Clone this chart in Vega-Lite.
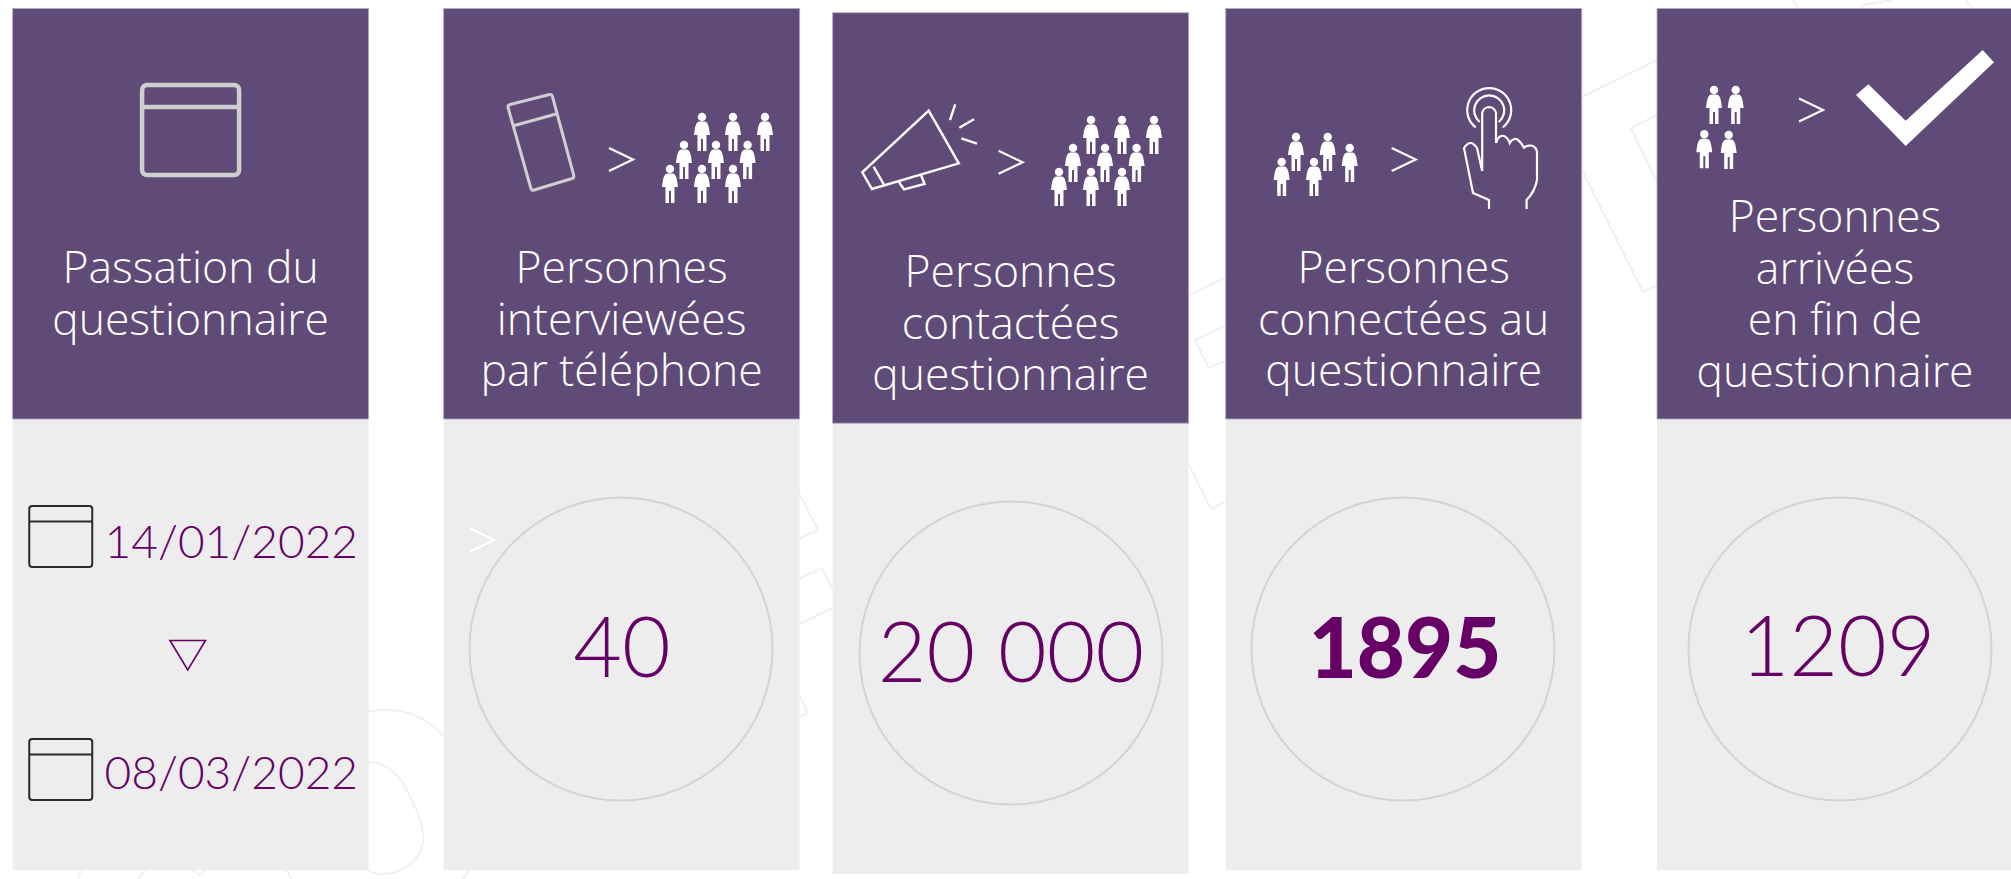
{"$schema":"https://vega.github.io/schema/vega-lite/v6.json","width":2011,"height":879,"padding":0,"autosize":{"type":"none"},"background":"white","config":{"view":{"stroke":null}},
"datasets":{
"panels":[
{"col":1,"title":"Passation du\nquestionnaire"},
{"col":2,"title":"Personnes\ninterviewées\npar téléphone","value":"40","emphasis":false},
{"col":3,"title":"Personnes\ncontactées\nquestionnaire","value":"20 000","emphasis":false},
{"col":4,"title":"Personnes\nconnectées au\nquestionnaire","value":"1895","emphasis":true},
{"col":5,"title":"Personnes\narrivées\nen fin de\nquestionnaire","value":"1209","emphasis":false}],
"dates":[{"col":1,"n":1,"date":"14/01/2022"},{"col":1,"n":2,"date":"08/03/2022"}],
"chevrons":[{"col":2,"n":1},{"col":2,"n":2},{"col":3,"n":3},{"col":4,"n":4},{"col":5,"n":5}],
"backdrop":[{"col":0}]},
"data":{"name":"panels"},
"encoding":{
"x":{"field":"col","type":"quantitative","axis":null,"scale":{"domain":[0,1,2,3,4,5],"range":[0,190.6,621.6,1010.6,1403.7,1835],"nice":false,"zero":false}},
"y":{"field":"col","type":"quantitative","axis":null,"scale":{"domain":[0,1,2,3,4,5],"range":[0,130,117,120,110,110],"nice":false,"zero":false}}},
"layer":[
{"data":{"name":"backdrop"},"mark":{"type":"point","size":4,"filled":false,"stroke":"#f1f1f1","strokeWidth":2,"opacity":1,"shape":"M368,712C395,706 420,712 443,735M368,762C385,762 395,772 403,783C415,805 425,825 423,843C420,862 400,874 382,874C376,874 372,872 368,870M82,868L78,879M147,868L138,879M191,868L199,875L208,868M285,868L292,879M470,868L463,879M799,493L818,530L799,539M799,579L822,568L833,591M799,624L833,608M799,694L808,713L799,717M1189,295L1225,278M1225,326L1195,340L1209,368L1225,361M1189,465L1211,509L1225,502M1582,97L1657,60M1657,115L1631,128L1657,182M1582,170L1643,292L1657,285M1793,0L1798,8M1862,8L1862,5L1892,0M1965,0L1972,8"}},
{"mark":{"type":"rect","fill":"#ededed","xOffset":-178,"x2Offset":178,"y2Offset":451},
"encoding":{"x2":{"field":"col"},"y":{"field":"col","type":"quantitative","axis":null,"scale":{"domain":[1,2,3,4,5],"range":[419,419,423,419,419],"nice":false,"zero":false}},"y2":{"field":"col"}}},
{"mark":{"type":"rect","fill":"#5f4a78","stroke":"#b3a9c0","strokeWidth":0.8,"xOffset":-178,"x2Offset":178,"y2Offset":410.5},
"encoding":{"x2":{"field":"col"},"y":{"field":"col","type":"quantitative","axis":null,"scale":{"domain":[1,2,3,4,5],"range":[8.5,8.5,12.7,8.5,8.5],"nice":false,"zero":false}},"y2":{"field":"col"}}},
{"transform":[{"filter":"datum.col == 1"}],"mark":{"type":"point","size":4,"filled":false,"stroke":"#cfcfcf","strokeWidth":4.5,"opacity":1,"shape":"M-43.5,-45H43.5A5,5 0 0 1 48.5,-40V40A5,5 0 0 1 43.5,45H-43.5A5,5 0 0 1 -48.5,40V-40A5,5 0 0 1 -43.5,-45ZM-48.5,-23H48.5"}},
{"transform":[{"filter":"datum.col == 2"}],"mark":{"type":"point","size":4,"filled":false,"stroke":"#cfcfcf","strokeWidth":3,"strokeJoin":"round","opacity":1,"shape":"M-113.6,-9.5Q-114,-11.5 -111.5,-12.5L-72,-22.5Q-70,-23 -69.3,-21L-47.8,58.5Q-47.3,60.7 -49.5,61.5L-87.5,73Q-90,73.8 -90.7,71.5ZM-109,9L-65.6,-3"}},
{"transform":[{"filter":"datum.col == 2 || datum.col == 3"}],"mark":{"type":"point","size":4,"filled":true,"color":"white","opacity":1,"shape":"M76.2,0a4.2,4.2 0 1,0 8.4,0a4.2,4.2 0 1,0 -8.4,0ZM77.4,4.5h6c3,1 4,4.5 5,13.5h-3.5v16h-3.5v-12h-2v12h-3.5v-16h-3.5c1,-9 2,-12.5 5,-13.5ZM107.2,0a4.2,4.2 0 1,0 8.4,0a4.2,4.2 0 1,0 -8.4,0ZM108.4,4.5h6c3,1 4,4.5 5,13.5h-3.5v16h-3.5v-12h-2v12h-3.5v-16h-3.5c1,-9 2,-12.5 5,-13.5ZM139.2,0a4.2,4.2 0 1,0 8.4,0a4.2,4.2 0 1,0 -8.4,0ZM140.4,4.5h6c3,1 4,4.5 5,13.5h-3.5v16h-3.5v-12h-2v12h-3.5v-16h-3.5c1,-9 2,-12.5 5,-13.5ZM58.2,28a4.2,4.2 0 1,0 8.4,0a4.2,4.2 0 1,0 -8.4,0ZM59.4,32.5h6c3,1 4,4.5 5,13.5h-3.5v16h-3.5v-12h-2v12h-3.5v-16h-3.5c1,-9 2,-12.5 5,-13.5ZM90.2,28a4.2,4.2 0 1,0 8.4,0a4.2,4.2 0 1,0 -8.4,0ZM91.4,32.5h6c3,1 4,4.5 5,13.5h-3.5v16h-3.5v-12h-2v12h-3.5v-16h-3.5c1,-9 2,-12.5 5,-13.5ZM121.8,28a4.2,4.2 0 1,0 8.4,0a4.2,4.2 0 1,0 -8.4,0ZM123,32.5h6c3,1 4,4.5 5,13.5h-3.5v16h-3.5v-12h-2v12h-3.5v-16h-3.5c1,-9 2,-12.5 5,-13.5ZM44.2,52a4.2,4.2 0 1,0 8.4,0a4.2,4.2 0 1,0 -8.4,0ZM45.4,56.5h6c3,1 4,4.5 5,13.5h-3.5v16h-3.5v-12h-2v12h-3.5v-16h-3.5c1,-9 2,-12.5 5,-13.5ZM76.2,52a4.2,4.2 0 1,0 8.4,0a4.2,4.2 0 1,0 -8.4,0ZM77.4,56.5h6c3,1 4,4.5 5,13.5h-3.5v16h-3.5v-12h-2v12h-3.5v-16h-3.5c1,-9 2,-12.5 5,-13.5ZM107.2,52a4.2,4.2 0 1,0 8.4,0a4.2,4.2 0 1,0 -8.4,0ZM108.4,56.5h6c3,1 4,4.5 5,13.5h-3.5v16h-3.5v-12h-2v12h-3.5v-16h-3.5c1,-9 2,-12.5 5,-13.5Z"}},
{"transform":[{"filter":"datum.col == 3"}],"mark":{"type":"point","size":4,"filled":false,"stroke":"white","strokeWidth":2.4,"opacity":1,"shape":"M-81.9,-9.3L-51.8,43.3L-138.6,69L-148.3,52.3ZM-137,46.7L-126.8,64.3M-111.6,62.3L-106.6,69.3L-86,64L-89.6,55M-55.4,-15.7L-60.6,0M-36.6,-0.7L-51.3,7.7M-49.3,18.3L-33.6,23.7"}},
{"transform":[{"filter":"datum.col == 4"}],"mark":{"type":"point","size":4,"filled":true,"color":"white","opacity":1,"shape":"M-111.9,27a4.2,4.2 0 1,0 8.4,0a4.2,4.2 0 1,0 -8.4,0ZM-110.7,31.5h6c3,1 4,4.5 5,13.5h-3.5v16h-3.5v-12h-2v12h-3.5v-16h-3.5c1,-9 2,-12.5 5,-13.5ZM-80.2,27a4.2,4.2 0 1,0 8.4,0a4.2,4.2 0 1,0 -8.4,0ZM-79,31.5h6c3,1 4,4.5 5,13.5h-3.5v16h-3.5v-12h-2v12h-3.5v-16h-3.5c1,-9 2,-12.5 5,-13.5ZM-58.2,38a4.2,4.2 0 1,0 8.4,0a4.2,4.2 0 1,0 -8.4,0ZM-57,42.5h6c3,1 4,4.5 5,13.5h-3.5v16h-3.5v-12h-2v12h-3.5v-16h-3.5c1,-9 2,-12.5 5,-13.5ZM-126.2,52a4.2,4.2 0 1,0 8.4,0a4.2,4.2 0 1,0 -8.4,0ZM-125,56.5h6c3,1 4,4.5 5,13.5h-3.5v16h-3.5v-12h-2v12h-3.5v-16h-3.5c1,-9 2,-12.5 5,-13.5ZM-93.9,52a4.2,4.2 0 1,0 8.4,0a4.2,4.2 0 1,0 -8.4,0ZM-92.7,56.5h6c3,1 4,4.5 5,13.5h-3.5v16h-3.5v-12h-2v12h-3.5v-16h-3.5c1,-9 2,-12.5 5,-13.5Z"}},
{"transform":[{"filter":"datum.col == 4"}],"mark":{"type":"point","size":4,"filled":false,"stroke":"white","strokeWidth":2.2,"opacity":1,"shape":"M78.5,61L78.5,3A7,7 0 0 1 92.3,3L92.3,33C94,28 97,25 100,26C103,27 105,30 106,33C108,29 112,28 114.3,30C117,32 119,35 120.3,37.7C123,35 128,35 130.3,36.7C132,38 133.3,40 133.3,43L133.3,70Q131,82 122.9,90L122.9,99M78.5,61L73.3,38Q66.8,28 60.3,38L69.3,83L85.3,90L85.3,99M72,17.5A22,22 0 1 1 99,17.5M76,12A15,15 0 1 1 95,12"}},
{"transform":[{"filter":"datum.col == 5"}],"mark":{"type":"point","size":4,"filled":true,"color":"white","opacity":1,"shape":"M-125.2,-20a4.2,4.2 0 1,0 8.4,0a4.2,4.2 0 1,0 -8.4,0ZM-124,-15.5h6c3,1 4,4.5 5,13.5h-3.5v16h-3.5v-12h-2v12h-3.5v-16h-3.5c1,-9 2,-12.5 5,-13.5ZM-103.5,-20a4.2,4.2 0 1,0 8.4,0a4.2,4.2 0 1,0 -8.4,0ZM-102.3,-15.5h6c3,1 4,4.5 5,13.5h-3.5v16h-3.5v-12h-2v12h-3.5v-16h-3.5c1,-9 2,-12.5 5,-13.5ZM-134.9,24.3a4.2,4.2 0 1,0 8.4,0a4.2,4.2 0 1,0 -8.4,0ZM-133.7,28.8h6c3,1 4,4.5 5,13.5h-3.5v16h-3.5v-12h-2v12h-3.5v-16h-3.5c1,-9 2,-12.5 5,-13.5ZM-110.5,25a4.2,4.2 0 1,0 8.4,0a4.2,4.2 0 1,0 -8.4,0ZM-109.3,29.5h6c3,1 4,4.5 5,13.5h-3.5v16h-3.5v-12h-2v12h-3.5v-16h-3.5c1,-9 2,-12.5 5,-13.5ZM33.3,-25.7L70.7,10.7L147.7,-60L159,-47.7L70.7,36L21,-15Z"}},
{"data":{"name":"chevrons"},"mark":{"type":"point","size":4,"filled":false,"stroke":"white","strokeWidth":2.2,"opacity":1,"shape":"M-12,-11.5L12,0L-12,11.5"},
"encoding":{"x":{"field":"n","type":"quantitative","axis":null,"scale":{"domain":[1,2,3,4,5],"range":[621,482,1010.6,1403.7,1811],"nice":false,"zero":false}},"y":{"field":"n","type":"quantitative","axis":null,"scale":{"domain":[1,2,3,4,5],"range":[159.5,540,162.3,159.5,110],"nice":false,"zero":false}}}},
{"mark":{"type":"text","font":"Open Sans","fontWeight":300,"fontSize":44.5,"lineHeight":51.5,"lineBreak":"\n","align":"center","baseline":"alphabetic","color":"white"},
"encoding":{"text":{"field":"title"},"y":{"field":"col","type":"quantitative","axis":null,"scale":{"domain":[1,2,3,4,5],"range":[283,283,287,283,232],"nice":false,"zero":false}}}},
{"transform":[{"filter":"isValid(datum.value)"}],"mark":{"type":"point","shape":"circle","size":91809,"filled":false,"stroke":"#d3d3d3","strokeWidth":2,"opacity":1},
"encoding":{"x":{"field":"col","type":"quantitative","axis":null,"scale":{"domain":[2,3,4,5],"range":[621,1011,1403,1840],"nice":false,"zero":false}},"y":{"field":"col","type":"quantitative","axis":null,"scale":{"domain":[2,3,4,5],"range":[649,653,649,649],"nice":false,"zero":false}}}},
{"transform":[{"filter":"isValid(datum.value) && !datum.emphasis"}],"mark":{"type":"text","font":"Lato","fontWeight":300,"fontSize":84,"align":"center","baseline":"alphabetic","color":"#660066"},
"encoding":{"text":{"field":"value"},"x":{"field":"col","type":"quantitative","axis":null,"scale":{"domain":[2,3,4,5],"range":[622,1011,1405,1838],"nice":false,"zero":false}},"y":{"field":"col","type":"quantitative","axis":null,"scale":{"domain":[2,3,4,5],"range":[677,682,678,676],"nice":false,"zero":false}}}},
{"transform":[{"filter":"datum.emphasis === true"}],"mark":{"type":"text","font":"Lato","fontWeight":900,"fontSize":83,"align":"center","baseline":"alphabetic","color":"#660066"},
"encoding":{"text":{"field":"value"},"x":{"field":"col","type":"quantitative","axis":null,"scale":{"domain":[2,3,4,5],"range":[622,1011,1405,1838],"nice":false,"zero":false}},"y":{"field":"col","type":"quantitative","axis":null,"scale":{"domain":[2,3,4,5],"range":[677,682,678,676],"nice":false,"zero":false}}}},
{"data":{"name":"dates"},"mark":{"type":"point","size":4,"filled":false,"stroke":"#2a2a2a","strokeWidth":2,"opacity":1,"xOffset":-129.85,"shape":"M-28.5,-30.5H28.5A3,3 0 0 1 31.5,-27.5V27.5A3,3 0 0 1 28.5,30.5H-28.5A3,3 0 0 1 -31.5,27.5V-27.5A3,3 0 0 1 -28.5,-30.5ZM-31.5,-15H31.5"},
"encoding":{"y":{"field":"n","type":"quantitative","axis":null,"scale":{"domain":[1,2],"range":[536.5,769.5],"nice":false,"zero":false}}}},
{"data":{"name":"dates"},"mark":{"type":"text","font":"Lato","fontWeight":300,"fontSize":46,"align":"right","baseline":"alphabetic","color":"#660066","xOffset":167.4},
"encoding":{"text":{"field":"date"},"y":{"field":"n","type":"quantitative","axis":null,"scale":{"domain":[1,2],"range":[558,789],"nice":false,"zero":false}}}},
{"transform":[{"filter":"datum.col == 1"}],"mark":{"type":"point","size":4,"filled":false,"stroke":"#660066","strokeWidth":1.6,"opacity":1,"shape":"M-20.6,510.5L14.9,510.5L-2.85,540Z"}}
],
"resolve":{"scale":{"x":"independent","y":"independent"}}}
